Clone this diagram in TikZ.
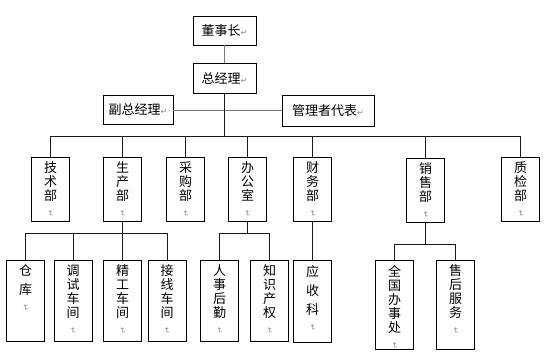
\documentclass[tikz,border=0pt]{standalone}
\usepackage{fontspec}
\usepackage{graphicx}
\usepackage{xcolor}
\usepackage{tikz}
\setmainfont{Noto Sans CJK SC}
\newfontfamily\symfont{DejaVu Sans}
\definecolor{ink}{HTML}{000000}
\definecolor{wire}{HTML}{1A1A1A}
\definecolor{softwire}{HTML}{7A7A7A}
\definecolor{mark}{HTML}{8A8A8A}
\newcommand{\pmark}{{\symfont\fontsize{8}{8}\selectfont\color{mark}↵}}
\newcommand{\vmark}{\\[-4pt]\rotatebox{-90}{\pmark}}
\newcommand{\vstack}[2]{\parbox[c][#1][t]{38pt}{\centering\fontsize{13}{14}\selectfont\vspace*{5pt}#2}}

\begin{document}
\begin{tikzpicture}[x=1pt,y=-1pt,
  hbox/.style={draw=ink,line width=0.8pt,inner sep=0pt,font=\fontsize{13}{14}\selectfont,color=ink},
  vbox/.style={draw=ink,line width=0.8pt,inner sep=0pt,color=ink},
  link/.style={draw=wire,line width=0.8pt},
  softlink/.style={draw=softwire,line width=0.8pt}]
  \useasboundingbox (0,0) rectangle (553,357);
  % top
  \node[hbox,minimum width=63pt,minimum height=29pt] (chair) at (224.5,30.5) {董事长\pmark};
  \node[hbox,minimum width=63pt,minimum height=30pt] (gm) at (224.5,78) {总经理\pmark};
  \node[hbox,minimum width=70pt,minimum height=29pt] (vgm) at (138,110) {副总经理\pmark};
  \node[hbox,minimum width=92pt,minimum height=31pt] (rep) at (328,111) {管理者代表\pmark};
  % departments
  \node[vbox] (tech) at (50.5,189) {\vstack{64pt}{技\\术\\部\vmark}};
  \node[vbox] (prod) at (122.5,189) {\vstack{64pt}{生\\产\\部\vmark}};
  \node[vbox] (purch) at (185.5,189) {\vstack{64pt}{采\\购\\部\vmark}};
  \node[vbox] (office) at (247.5,189) {\vstack{64pt}{办\\公\\室\vmark}};
  \node[vbox] (fin) at (312.5,189) {\vstack{64pt}{财\\务\\部\vmark}};
  \node[vbox] (sales) at (425.5,190) {\vstack{64pt}{销\\售\\部\vmark}};
  \node[vbox] (qc) at (520.5,189) {\vstack{64pt}{质\\检\\部\vmark}};
  % sections
  \node[vbox] (store) at (25.5,300.5) {\vstack{81pt}{仓\\[5pt]库\vmark}};
  \node[vbox] (debug) at (73,300.5) {\vstack{81pt}{调\\试\\车\\间\vmark}};
  \node[vbox] (finish) at (122.5,300.5) {\vstack{81pt}{精\\工\\车\\间\vmark}};
  \node[vbox] (wiring) at (167,300.5) {\vstack{81pt}{接\\线\\车\\间\vmark}};
  \node[vbox] (hr) at (219.5,300.5) {\vstack{81pt}{人\\事\\后\\勤\vmark}};
  \node[vbox] (ip) at (269.5,300.5) {\vstack{81pt}{知\\识\\产\\权\vmark}};
  \node[vbox] (recv) at (312.5,301) {\vstack{82pt}{应\\[5pt]收\\[5pt]科\vmark}};
  \node[vbox] (nation) at (394.5,304.5) {\vstack{89pt}{全\\国\\办\\事\\处\vmark}};
  \node[vbox] (after) at (455.5,304.5) {\vstack{89pt}{售\\后\\服\\务\vmark}};
  % connectors
  \coordinate (bus) at (0,136);
  \coordinate (bus2) at (0,233);
  \coordinate (bus3) at (0,244);
  \draw[softlink] (chair) -- (gm);
  \draw[softlink] (vgm.east) -- (vgm.east -| rep.west);
  \draw[link] (gm.south) -- (gm.south |- bus);
  \draw[link] (tech.north) |- (qc.north |- bus) -- (qc.north);
  \foreach \d in {prod,purch,office,fin,sales}
    \draw[link] (\d.north) -- (\d.north |- bus);
  \draw[link] (store.north) |- (wiring.north |- bus2) -- (wiring.north);
  \draw[link] (debug.north) -- (debug.north |- bus2);
  \draw[link] (finish.north) -- (prod.south);
  \draw[link] (hr.north) |- (ip.north |- bus2) -- (ip.north);
  \draw[link] (office.south) -- (office.south |- bus2);
  \draw[link] (recv.north) -- (fin.south);
  \draw[link] (nation.north) |- (after.north |- bus3) -- (after.north);
  \draw[link] (sales.south) -- (sales.south |- bus3);
\end{tikzpicture}
\end{document}
